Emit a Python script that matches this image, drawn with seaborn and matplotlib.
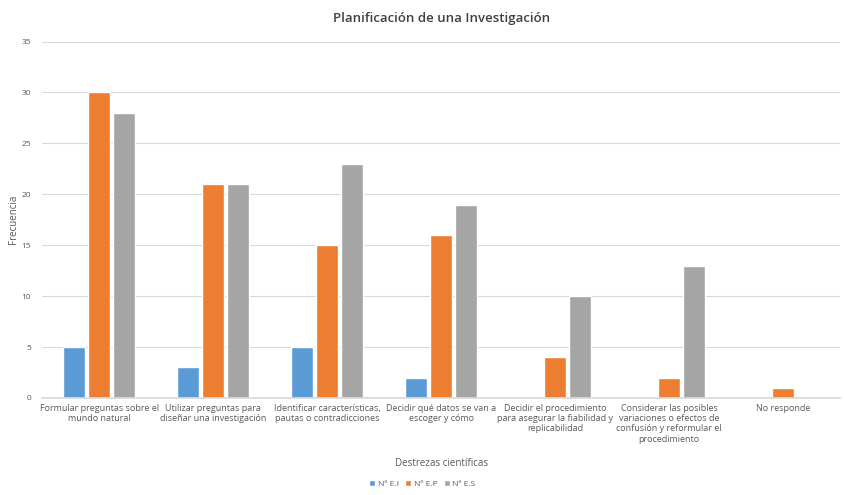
import matplotlib
matplotlib.use("Agg")
import matplotlib.pyplot as plt
import seaborn as sns
import pandas as pd

categorias = [
    "Formular preguntas sobre el\nmundo natural",
    "Utilizar preguntas para\ndiseñar una investigación",
    "Identificar características,\npautas o contradicciones",
    "Decidir qué datos se van a\nescoger y cómo",
    "Decidir el procedimiento\npara asegurar la fiabilidad y\nreplicabilidad",
    "Considerar las posibles\nvariaciones o efectos de\nconfusión y reformular el\nprocedimiento",
    "No responde",
]
series = ["Nº E.I", "Nº E.P", "Nº E.S"]
valores_EI = [5, 3, 5, 2, 0, 0, 0]
valores_EP = [30, 21, 15, 16, 4, 2, 1]
valores_ES = [28, 21, 23, 19, 10, 13, 0]
colores = ["#5B9BD5", "#ED7D31", "#A5A5A5"]

rows = []
for s, vals in zip(series, [valores_EI, valores_EP, valores_ES]):
    for c, v in zip(categorias, vals):
        rows.append({"Categoria": c, "Serie": s, "Valor": v})
df = pd.DataFrame(rows)

sns.set_theme(style="white")
plt.rcParams["font.family"] = ["Open Sans", "DejaVu Sans"]

fig = plt.figure(figsize=(8.45, 4.95), dpi=100)
ax = fig.add_axes([0.05, 0.196, 0.944, 0.72])

sns.barplot(data=df, x="Categoria", y="Valor", hue="Serie", palette=colores,
            width=0.66, gap=0.12, ax=ax, saturation=1, legend=True)

ax.set_ylim(0, 35)
ax.set_yticks(range(0, 36, 5))
ax.yaxis.grid(True, color="#D9D9D9", linewidth=0.8)
ax.set_axisbelow(True)
for sp in ["top", "right", "left"]:
    ax.spines[sp].set_visible(False)
ax.spines["bottom"].set_color("#D9D9D9")
ax.tick_params(axis="y", labelsize=6, colors="#595959", length=0, pad=8)
ax.tick_params(axis="x", labelsize=6.5, colors="#595959", length=0, pad=4)
ax.set_xlabel("Destrezas científicas", fontsize=7, color="#595959", labelpad=10)
ax.set_ylabel("Frecuencia", fontsize=7, color="#595959", labelpad=2)
ax.set_title("Planificación de una Investigación", fontsize=9.5, color="#404040",
             fontweight="semibold", pad=14)
ax.set_xlim(-0.5, 6.5)

handles, labels = ax.get_legend_handles_labels()
ax.legend_.remove()
fig.legend(handles, labels, loc="lower center", bbox_to_anchor=(0.5, 0.0), ncol=3,
           frameon=False, fontsize=6, handlelength=0.7, handleheight=0.7,
           handletextpad=0.3, columnspacing=0.8, labelcolor="#595959")

fig.savefig("out.png", dpi=100)
